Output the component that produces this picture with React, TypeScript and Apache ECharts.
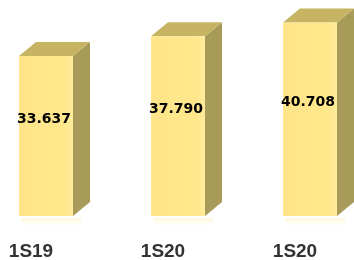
import React, { useEffect, useRef } from "react";
import * as echarts from "echarts";

const categories = ["1S19", "1S20", "1S20"];
const values = [33.637, 37.79, 40.708];

export default function App() {
  const ref = useRef<HTMLDivElement>(null);
  useEffect(() => {
    if (!ref.current) return;
    const chart = echarts.init(ref.current, null, { renderer: "svg" });
    const frontW = 54;
    const dx = 17;
    const dy = 14;
    chart.setOption({
      animation: false,
      grid: { left: -20, width: 396, top: 2, bottom: 44, outerBoundsMode: "none", containLabel: false },
      xAxis: {
        type: "category",
        data: categories,
        axisLine: { show: false },
        axisTick: { show: false },
        axisLabel: {
          fontFamily: "Liberation Sans",
          fontWeight: "bold",
          fontSize: 19,
          color: "#333333",
          margin: 25,
          padding: [0, 30, 0, 0],
        },
      },
      yAxis: { type: "value", min: 0, max: 45, show: false },
      series: [
        {
          type: "custom",
          data: values.map((v, i) => [i, v]),
          renderItem: (params: any, api: any) => {
            const idx = api.value(0);
            const v = api.value(1);
            const top = api.coord([idx, v]);
            const bot = api.coord([idx, 0]);
            const cx = top[0];
            const l = cx - frontW / 2;
            const r = cx + frontW / 2;
            const ty = top[1];
            const by = bot[1];
            return {
              type: "group",
              children: [
                {
                  type: "rect",
                  shape: { x: l + 2, y: by + 2, width: frontW + 6, height: 8 },
                  style: {
                    fill: new echarts.graphic.LinearGradient(0, 0, 0, 1, [
                      { offset: 0, color: "rgba(255,236,160,0.35)" },
                      { offset: 1, color: "rgba(255,236,160,0)" },
                    ]),
                  },
                },
                {
                  type: "polygon",
                  shape: {
                    points: [
                      [r, ty],
                      [r + dx, ty - dy],
                      [r + dx, by - dy],
                      [r, by],
                    ],
                  },
                  style: { fill: "#A89A58" },
                },
                {
                  type: "polygon",
                  shape: {
                    points: [
                      [l, ty],
                      [l + dx, ty - dy],
                      [r + dx, ty - dy],
                      [r, ty],
                    ],
                  },
                  style: { fill: "#C6B462" },
                },
                {
                  type: "rect",
                  shape: { x: l, y: ty, width: frontW, height: by - ty },
                  style: {
                    fill: new echarts.graphic.LinearGradient(0, 0, 1, 0, [
                      { offset: 0, color: "#FFE589" },
                      { offset: 0.85, color: "#FFE78C" },
                      { offset: 1, color: "#FFEC9C" },
                    ]),
                  },
                },
                {
                  type: "text",
                  style: {
                    x: cx - 2,
                    y: (ty + by) / 2 - 18,
                    text: v.toFixed(3),
                    fill: "#000000",
                    fontFamily: "DejaVu Sans",
                    fontWeight: "bold",
                    fontSize: 14,
                    align: "center",
                    verticalAlign: "middle",
                  },
                },
              ],
            };
          },
        },
      ],
    });
    return () => chart.dispose();
  }, []);
  return <div ref={ref} style={{ width: 354, height: 260, position: "fixed", left: 0, top: 0 }} />;
}
